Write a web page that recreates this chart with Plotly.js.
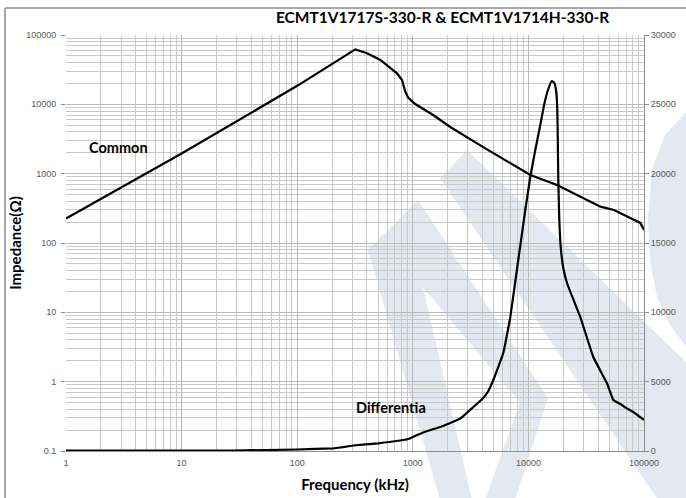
<!DOCTYPE html>
<html><head><meta charset="utf-8">
<script src="https://cdn.plot.ly/plotly-3.0.1.min.js"></script>
<style>html,body{margin:0;padding:0;background:#fff}#chart{width:686px;height:498px}</style>
</head><body><div id="chart"></div>
<script>
const chartTitle = "ECMT1V1717S-330-R & ECMT1V1714H-330-R";
const xAxisTitle = "Frequency (kHz)";
const yAxisTitle = "Impedance(Ω)";
const commonName = "Common";
const diffName = "Differentia";

const commonFreq = [1, 10, 100, 318, 402, 524, 730, 807, 861, 914, 1050, 1500, 2110, 4000, 10400, 17700, 42000, 55000, 80000, 93000, 100000];
const commonZ    = [225, 1950, 18500, 62000, 54500, 43600, 28000, 22400, 15200, 12400, 10100, 7020, 4710, 2450, 957, 687, 334, 299, 220, 195, 154];

const diffFreq = [1, 10, 28, 100, 205, 236, 306, 503, 915, 1094, 1335, 1729, 2110, 2576, 3337, 4073, 4499, 4971, 6065, 6973, 8017, 9402, 10385, 11472, 12676, 13727, 14864, 15939, 16749, 17431, 17783, 17960, 18141, 18506, 19067, 20040, 21709, 28120, 36420, 48150, 54260, 62370, 70300, 80800, 100000];
const diffZ    = [20, 20, 30, 108, 195, 252, 397, 555, 865, 1154, 1442, 1731, 2019, 2344, 3173, 3822, 4327, 5120, 7067, 9663, 13269, 17380, 19760, 21707, 23509, 25024, 26106, 26683, 26538, 25889, 24591, 22428, 19543, 16659, 14639, 13197, 12043, 9663, 6779, 4832, 3678, 3389, 3101, 2812, 2236];

const xTickVals = [1, 10, 100, 1000, 10000, 100000];
const xTickText = ["1", "10", "100", "1000", "10000", "100000"];
const yTickVals = [0.1, 1, 10, 100, 1000, 10000, 100000];
const yTickText = ["0.1", "1", "10", "100", "1000", "10000", "100000"];
const y2TickVals = [0, 5000, 10000, 15000, 20000, 25000, 30000];
const y2TickText = ["0", "5000", "10000", "15000", "20000", "25000", "30000"];

// layout geometry (pixels)
const W = 686, H = 498, PL = 66, PR = 644, PT = 35, PB = 451;
const fx = x => (x - PL) / (PR - PL);
const fy = y => (PB - y) / (PB - PT);
const pathOf = pts => 'M' + pts.map(p => fx(p[0]).toFixed(4) + ',' + fy(p[1]).toFixed(4)).join(' L') + ' Z';
const wm = '#e3e8f1';
const watermark = [
  [[368,250],[418,200],[548,398],[515,500],[485,500],[520,403],[423,287],[472,500],[440,500]],
  [[440,178],[467,150],[690,366],[690,500],[658,500]],
  [[690,108],[665,135],[652,170],[648,220],[650,260],[657,297],[670,325],[690,352]]
].map(pts => ({type:'path', xref:'paper', yref:'paper', path: pathOf(pts), fillcolor: wm, line:{width:0}, layer:'below'}));
const frameLines = [
  {type:'line', xref:'paper', yref:'paper', x0: fx(5), x1: fx(5), y0: fy(498), y1: fy(8), line:{color:'#a8a8a8', width:2}, layer:'below'},
  {type:'line', xref:'paper', yref:'paper', x0: fx(5), x1: fx(686), y0: fy(8), y1: fy(8), line:{color:'#a8a8a8', width:2}, layer:'below'}
];

const tickFont = {family: 'Liberation Sans, Arial, sans-serif', size: 9, color: '#595959'};
const labelFont = {family: 'Lato, Open Sans, sans-serif', size: 14.5, color: '#000', weight: 'bold'};

const traces = [
  {x: commonFreq, y: commonZ, type: 'scatter', mode: 'lines', name: commonName,
   line: {color: '#000', width: 2.2}, yaxis: 'y'},
  {x: diffFreq, y: diffZ, type: 'scatter', mode: 'lines', name: diffName,
   line: {color: '#000', width: 2.2, shape: 'spline', smoothing: 0.3}, yaxis: 'y2'}
];

const layout = {
  width: W, height: H,
  margin: {l: PL, r: W - PR, t: PT, b: H - PB, pad: 0},
  paper_bgcolor: '#fff', plot_bgcolor: 'rgba(0,0,0,0)',
  showlegend: false,
  title: {text: '<b>' + chartTitle + '</b>', x: 447 / W, xanchor: 'center', xref: 'paper', y: 1 - 18 / H, yanchor: 'middle',
          font: {family: 'Lato, Open Sans, sans-serif', size: 15.5, color: '#000'}},
  xaxis: {type: 'log', range: [0, 5], tickvals: xTickVals, ticktext: xTickText, tickfont: tickFont,
          ticklabelstandoff: 3,
          showgrid: true, gridcolor: '#b9b9b9', gridwidth: 1,
          minor: {dtick: 'D1', showgrid: true, gridcolor: '#c9c9c9', gridwidth: 1, ticks: ''},
          showline: true, linecolor: '#8c8c8c', linewidth: 1, ticks: '', zeroline: false,
          title: {text: '<b>' + xAxisTitle + '</b>', font: {family: 'Lato, Open Sans, sans-serif', size: 15, color: '#000'}, standoff: 12}},
  yaxis: {type: 'log', range: [-1, 5], tickvals: yTickVals, ticktext: yTickText, tickfont: tickFont,
          ticklabelstandoff: 3,
          showgrid: true, gridcolor: '#b9b9b9', gridwidth: 1,
          minor: {dtick: 'D1', showgrid: true, gridcolor: '#c9c9c9', gridwidth: 1, ticks: ''},
          showline: false, ticks: 'outside', ticklen: 4, tickcolor: '#8c8c8c', zeroline: false,
          title: {text: '<b>' + yAxisTitle + '</b>', font: {family: 'Lato, Open Sans, sans-serif', size: 15, color: '#000'}, standoff: 0}},
  yaxis2: {overlaying: 'y', side: 'right', range: [0, 30000], tickvals: y2TickVals, ticktext: y2TickText,
           tickfont: tickFont, showgrid: false, zeroline: false, showline: true, linecolor: '#8c8c8c',
           ticks: 'outside', ticklen: 4, tickcolor: '#8c8c8c'},
  shapes: watermark.concat(frameLines),
  annotations: [
    {text: '<b>' + commonName + '</b>', xref: 'paper', yref: 'paper', x: fx(118), y: fy(147),
     showarrow: false, font: labelFont, xanchor: 'center', yanchor: 'middle'},
    {text: '<b>' + diffName + '</b>', xref: 'paper', yref: 'paper', x: fx(391), y: fy(407),
     showarrow: false, font: labelFont, xanchor: 'center', yanchor: 'middle'}
  ]
};

Plotly.newPlot('chart', traces, layout, {staticPlot: true, displayModeBar: false});
</script>
</body></html>
